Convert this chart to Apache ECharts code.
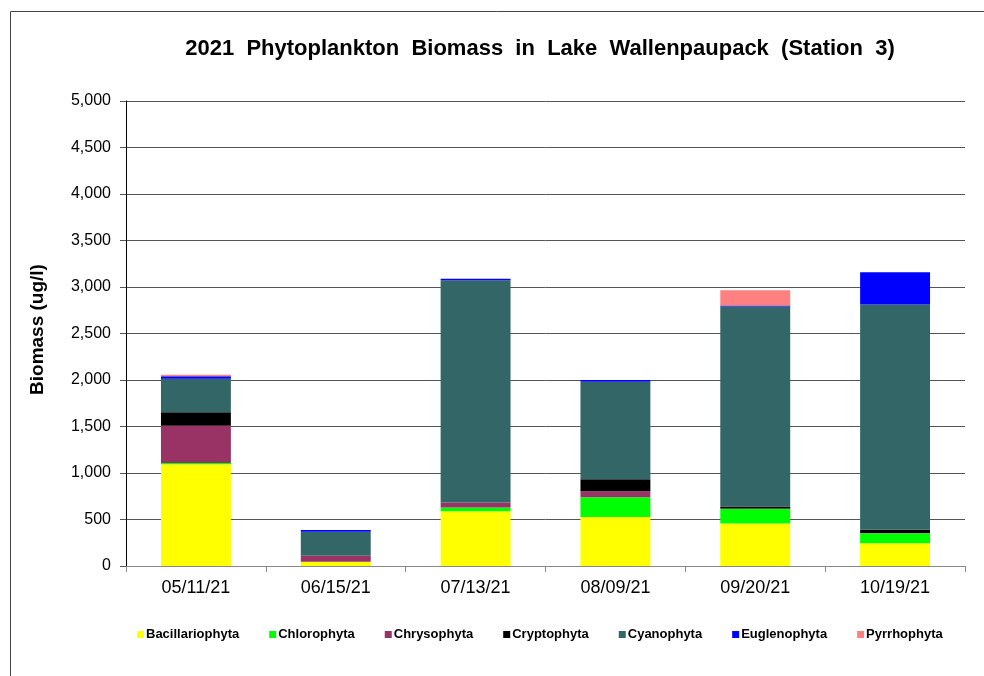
<!DOCTYPE html>
<html><head><meta charset="utf-8">
<script src="https://cdn.jsdelivr.net/npm/echarts@6/dist/echarts.min.js"></script>
<style>html,body{margin:0;padding:0;background:#fff}#c{width:984px;height:676px}</style>
</head><body><div id="c"></div>
<script>
const categories = ['05/11/21','06/15/21','07/13/21','08/09/21','09/20/21','10/19/21'];
const bacillariophyta = [1093, 46, 590, 528, 457, 245];
const chlorophyta     = [15, 0, 39, 212, 157, 107];
const chrysophyta     = [400, 65, 54, 64, 3, 3];
const cryptophyta     = [144, 0, 0, 129, 22, 36];
const cyanophyta      = [362, 258, 2389, 1049, 2151, 2422];
const euglenophyta    = [25, 18, 18, 18, 11, 345];
const pyrrhophyta     = [18, 0, 0, 0, 165, 0];
const seriesNames = ['Bacillariophyta','Chlorophyta','Chrysophyta','Cryptophyta','Cyanophyta','Euglenophyta','Pyrrhophyta'];
const seriesData = [bacillariophyta, chlorophyta, chrysophyta, cryptophyta, cyanophyta, euglenophyta, pyrrhophyta];
const colors = ['#FFFF00','#00FF00','#993366','#000000','#336666','#0000FF','#FF8080'];
const font = 'Liberation Sans, Arial, sans-serif';
const titleText = '2021 Phytoplankton Biomass in Lake Wallenpaupack (Station 3)';

const chart = echarts.init(document.getElementById('c'));
chart.setOption({
  animation: false,
  color: colors,
  title: {
    text: titleText.split(' ').join('  '),
    left: 535, textAlign: 'center', top: 33,
    textStyle: {fontFamily: font, fontSize: 22, fontWeight: 'bold', color: '#000'}
  },
  graphic: [{type: 'rect', shape: {x: 10.5, y: 11.5, width: 1000, height: 700}, style: {fill: 'none', stroke: '#444', lineWidth: 1}}],
  legend: {
    data: seriesNames, left: 132, top: 623, icon: 'rect', itemWidth: 7, itemHeight: 7, itemGap: 30,
    textStyle: {fontFamily: font, fontSize: 13, fontWeight: 'bold', color: '#000', padding: [0,0,0,-3]}
  },
  grid: {left: 126, right: 19, top: 101, bottom: 110, containLabel: false},
  xAxis: {
    type: 'category', data: categories,
    axisLine: {lineStyle: {color: '#888', width: 1}},
    axisTick: {show: true, length: 6, lineStyle: {color: '#888'}},
    axisLabel: {fontFamily: font, fontSize: 18, color: '#000', margin: 13}
  },
  yAxis: {
    type: 'value', min: 0, max: 5000, interval: 500,
    name: 'Biomass (ug/l)', nameLocation: 'middle', nameGap: 79, nameRotate: 90,
    nameTextStyle: {fontFamily: font, fontSize: 19, fontWeight: 'bold', color: '#000', padding: [0,0,0,8]},
    axisLine: {show: true, lineStyle: {color: '#000', width: 1}},
    axisTick: {show: true, length: 6, lineStyle: {color: '#555'}},
    axisLabel: {fontFamily: font, fontSize: 16, color: '#000', margin: 15,
      formatter: v => v.toLocaleString('en-US')},
    splitLine: {lineStyle: {color: '#555', width: 1}}
  },
  series: seriesNames.map((n, i) => ({
    name: n, type: 'bar', stack: 'total', barWidth: '50%', data: seriesData[i],
    itemStyle: {color: colors[i]}
  }))
});
</script></body></html>
